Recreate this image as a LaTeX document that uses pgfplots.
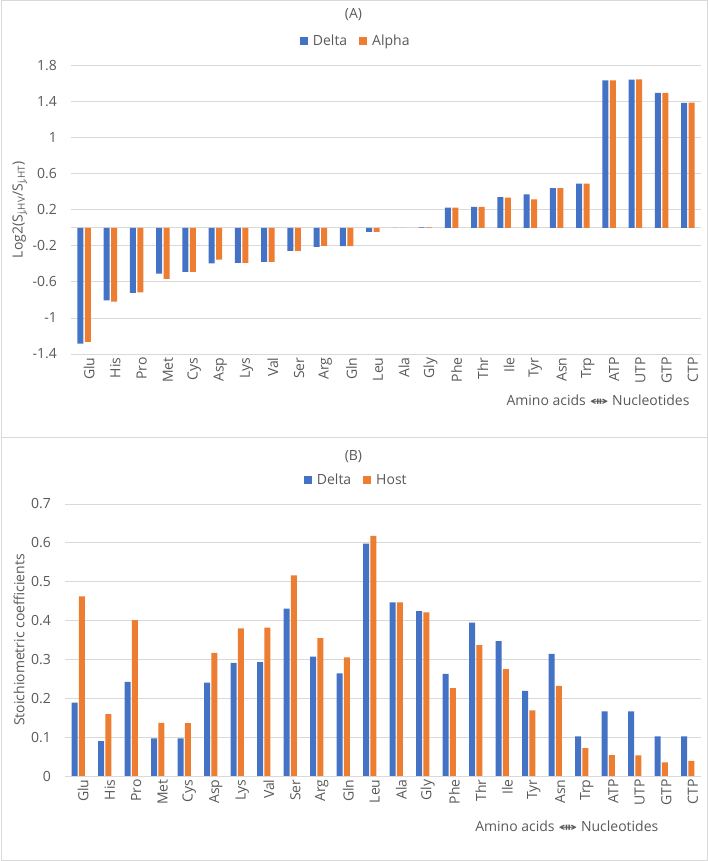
\documentclass[border=0pt]{standalone}
\usepackage{graphicx}
\usepackage{pgfplots}
\pgfplotsset{compat=1.18}
\usepackage{pgfplotstable}
\usepackage{fontspec}
\setmainfont{Open Sans}
\newfontfamily\djv{DejaVu Sans}
\definecolor{cblue}{HTML}{4472C4}
\definecolor{corange}{HTML}{ED7D31}
\definecolor{txt}{HTML}{595959}
\definecolor{grd}{HTML}{D9D9D9}
\newcommand\fs{\fontsize{14}{17}\selectfont}
\newcommand\arr{{\djv\fontsize{12}{14}\selectfont\scalebox{1.9}[1]{⇼}}}

\pgfplotstableread{
x Delta Alpha
0 -1.284 -1.266
1 -0.804 -0.818
2 -0.722 -0.715
3 -0.507 -0.567
4 -0.489 -0.489
5 -0.393 -0.352
6 -0.389 -0.389
7 -0.378 -0.378
8 -0.256 -0.256
9 -0.212 -0.201
10 -0.204 -0.204
11 -0.045 -0.045
12 -0.001 -0.001
13 0.005 0.005
14 0.225 0.225
15 0.232 0.232
16 0.340 0.336
17 0.373 0.317
18 0.440 0.440
19 0.492 0.492
20 1.638 1.638
21 1.646 1.649
22 1.497 1.497
23 1.386 1.390
}\tabA

\pgfplotstableread{
x Delta Host
0 0.189 0.462
1 0.090 0.159
2 0.242 0.401
3 0.097 0.137
4 0.097 0.136
5 0.240 0.317
6 0.291 0.380
7 0.293 0.382
8 0.431 0.516
9 0.307 0.355
10 0.264 0.305
11 0.598 0.618
12 0.447 0.447
13 0.424 0.421
14 0.263 0.226
15 0.395 0.337
16 0.347 0.275
17 0.219 0.169
18 0.314 0.232
19 0.102 0.072
20 0.166 0.054
21 0.166 0.053
22 0.102 0.035
23 0.102 0.039
}\tabB

\pgfplotsset{
  /pgfplots/ybar legend/.style={/pgfplots/legend image code/.code={%
      \fill[##1] (0pt,-4pt) rectangle (8pt,4pt); \path (9pt,0pt);}},
  mybars/.style={
    scale only axis,
    ybar=1.3pt, bar width=6pt,
    xmin=-0.5, xmax=23.5, enlargelimits=false,
    xtick={0,...,23},
    xticklabels={Glu,His,Pro,Met,Cys,Asp,Lys,Val,Ser,Arg,Gln,Leu,Ala,Gly,Phe,Thr,Ile,Tyr,Asn,Trp,ATP,UTP,GTP,CTP},
    axis line style={draw=none},
    major tick length=0pt,
    ymajorgrids, grid style={grd, line width=0.9pt},
    tick label style={font=\fs, text=txt},
    x tick label style={rotate=90, anchor=east, yshift=-5pt},
    y tick label style={xshift=-10.5pt},
    label style={font=\fs, text=txt},
    legend columns=2,
    legend style={draw=none, fill=none, font=\fs, text=txt, anchor=center,
      /tikz/every odd column/.append style={column sep=2pt},
      /tikz/every even column/.append style={column sep=10pt}},
  },
}

\begin{document}
\begin{tikzpicture}
\useasboundingbox (0pt,0pt) rectangle (708pt,861pt);
\draw[grd, line width=1pt] (1pt,0.5pt) rectangle (707pt,860.5pt);
\draw[grd, line width=1pt] (1pt,423pt) -- (707pt,423pt);

\begin{axis}[mybars,
  at={(71pt,507pt)}, anchor=south west,
  width=630pt, height=288.3pt,
  ymin=-1.4, ymax=1.8,
  ytick={-1.4,-1,-0.6,-0.2,0.2,0.6,1,1.4,1.8},
  yticklabels={-1.4,-1,-0.6,-0.2,0.2,0.6,1,1.4,1.8},
  extra y ticks={0}, extra y tick labels={},
  extra y tick style={grid=major, grid style={grd, line width=0.9pt}},
  title={(A)}, title style={at={(0.4484,1.1734)}, anchor=center, yshift=-5pt, font=\fs, text=txt},
  legend style={at={(0.452,1.0857)}},
  ylabel={Log2(S\textsubscript{j,HV}/S\textsubscript{j,HT})},
  ylabel style={at={(axis description cs:-0.081,0.5)}, anchor=center},
  xlabel={Amino acids \arr{} Nucleotides},
  xlabel style={at={(axis description cs:0.8365,-0.1596)}, anchor=center},
]
\addplot[fill=cblue, draw=none] table[x=x, y=Delta] {\tabA};
\addplot[fill=corange, draw=none] table[x=x, y=Alpha] {\tabA};
\legend{Delta, Alpha}
\end{axis}

\begin{axis}[mybars,
  at={(65pt,85pt)}, anchor=south west,
  width=636pt, height=272pt,
  ymin=0, ymax=0.7,
  ytick={0,0.1,0.2,0.3,0.4,0.5,0.6,0.7},
  yticklabels={0,0.1,0.2,0.3,0.4,0.5,0.6,0.7},
  title={(B)}, title style={at={(0.4535,1.1765)}, anchor=center, yshift=-7pt, font=\fs, text=txt},
  legend style={at={(0.458,1.0882)}},
  ylabel={Stoichiometric coefficients},
  ylabel style={at={(axis description cs:-0.0723,0.5)}, anchor=center},
  xlabel={Amino acids \arr{} Nucleotides},
  xlabel style={at={(axis description cs:0.789,-0.1864)}, anchor=center},
]
\addplot[fill=cblue, draw=none] table[x=x, y=Delta] {\tabB};
\addplot[fill=corange, draw=none] table[x=x, y=Host] {\tabB};
\legend{Delta, Host}
\end{axis}
\end{tikzpicture}
\end{document}
